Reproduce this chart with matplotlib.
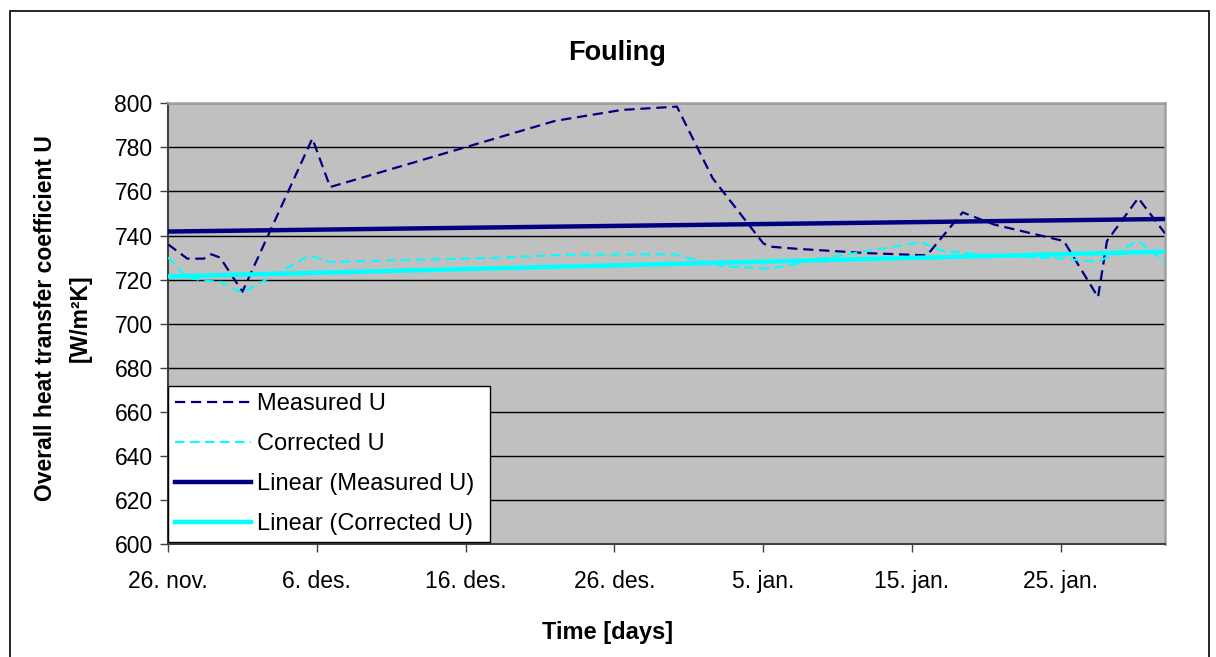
import numpy as np
import pandas as pd
import matplotlib
matplotlib.use("Agg")
import matplotlib.pyplot as plt
from matplotlib.lines import Line2D
from matplotlib.patches import Rectangle

plt.rcParams['font.family'] = ['Liberation Sans', 'DejaVu Sans']

# ---------------- data (days after 26 Nov) ----------------
start_date = "2006-11-26"
measured_days = [0, 1.3, 2.4, 2.9, 3.5, 5.0, 9.7, 10.9, 26.0, 30.5, 34.2, 36.6,
                 40.0, 40.4, 42.2, 47.0, 51.0, 53.4, 55.5, 60.2, 62.5, 63.1, 65.2, 67.0]
measured_u = [736, 729.5, 729.5, 731.5, 730, 714.5, 784, 762, 792, 797, 798.5, 766,
              736.5, 735, 734, 732, 731, 750.5, 745, 737.5, 712, 737.5, 757, 741]

corrected_days = [0, 1.3, 2.4, 3.5, 5.0, 9.5, 10.9, 21.0, 27.0, 34.0, 37.3, 40.5,
                  42.2, 43.8, 47.0, 50.6, 52.1, 55.3, 60.2, 62.5, 65.2, 67.0]
corrected_u = [730, 721, 719.5, 719, 714, 731, 728, 729.7, 731.3, 731.5, 726, 725,
               727, 729.4, 733, 737, 733, 731, 729.5, 728, 737.5, 728]

trend_days = [0, 67]
measured_trend = [741.8, 747.5]
corrected_trend = [721.4, 732.7]

tick_dates = ["2006-11-26", "2006-12-06", "2006-12-16", "2006-12-26",
              "2007-01-05", "2007-01-15", "2007-01-25"]
tick_labels = ["26. nov.", "6. des.", "16. des.", "26. des.",
               "5. jan.", "15. jan.", "25. jan."]
series_labels = ["Measured U", "Corrected U", "Linear (Measured U)", "Linear (Corrected U)"]

# ---------------- figure ----------------
W, H = 1216, 657
fig = plt.figure(figsize=(W / 100, H / 100), dpi=100)
fig.patch.set_facecolor("white")

# outer chart border
fig.add_artist(Rectangle((10 / W, -0.05), 1199 / W, 1 - 11 / H + 0.05,
                         transform=fig.transFigure, fill=False,
                         edgecolor="black", linewidth=1.2))

ax_l, ax_r, ax_t, ax_b = 168, 1165, 103.3, 544
ax = fig.add_axes([ax_l / W, 1 - ax_b / H, (ax_r - ax_l) / W, (ax_b - ax_t) / H])
ax.set_facecolor("#C0C0C0")

base = pd.Timestamp(start_date)
to_dates = lambda d: base + pd.to_timedelta(np.asarray(d, dtype=float), unit="D")

navy = "#000080"
cyan = "#00FFFF"
dash = (4.6, 2.6)

ax.plot(to_dates(measured_days), measured_u, color=navy, lw=1.6,
        linestyle=(0, dash), zorder=3)
ax.plot(to_dates(corrected_days), corrected_u, color=cyan, lw=1.5,
        linestyle=(0, dash), zorder=3)
ax.plot(to_dates(trend_days), measured_trend, color=navy, lw=3.2, zorder=4)
ax.plot(to_dates(trend_days), corrected_trend, color=cyan, lw=3.2, zorder=4)

ax.set_xlim(to_dates([0])[0], to_dates([67])[0])
ax.set_ylim(600, 800)
ax.set_yticks(np.arange(600, 801, 20))
ax.set_xticks(pd.to_datetime(tick_dates))
ax.set_xticklabels(tick_labels)

ax.yaxis.grid(True, color="black", lw=1.0, zorder=1)
ax.set_axisbelow(True)

ax.tick_params(axis="both", direction="out", length=6, width=1, color="#404040",
               labelsize=16.5, labelcolor="black")
ax.tick_params(axis="y", pad=5)
ax.tick_params(axis="x", pad=13)

for s in ["top", "right"]:
    ax.spines[s].set_color("#A0A0A0")
    ax.spines[s].set_linewidth(1.8)
for s in ["left", "bottom"]:
    ax.spines[s].set_color("#404040")
    ax.spines[s].set_linewidth(1.5)

# legend
handles = [
    Line2D([], [], color=navy, lw=1.6, linestyle=(0, dash)),
    Line2D([], [], color=cyan, lw=1.5, linestyle=(0, dash)),
    Line2D([], [], color=navy, lw=3.2),
    Line2D([], [], color=cyan, lw=3.2),
]
leg = ax.legend(handles, series_labels, loc="lower left",
                bbox_to_anchor=(0, 0.004, 0.323, 0.36), mode="expand",
                borderaxespad=0, fontsize=17, handlelength=3.2,
                handletextpad=0.25, labelspacing=0.76, borderpad=0.3,
                fancybox=False, framealpha=1, edgecolor="black")
leg.get_frame().set_linewidth(1.0)
leg.set_zorder(10)

# texts
fig.text(617 / W, 1 - 53 / H, "Fouling", ha="center", va="center",
         fontsize=19.5, fontweight="bold")
fig.text(608 / W, 1 - 632 / H, "Time [days]", ha="center", va="center",
         fontsize=17, fontweight="bold")
fig.text(63 / W, 1 - 318 / H, "Overall heat transfer coefficient U\n[W/m²K]",
         ha="center", va="center", rotation=90, fontsize=16.5,
         fontweight="bold", linespacing=1.65, multialignment="center")

fig.savefig("out.png", dpi=100, facecolor="white")
